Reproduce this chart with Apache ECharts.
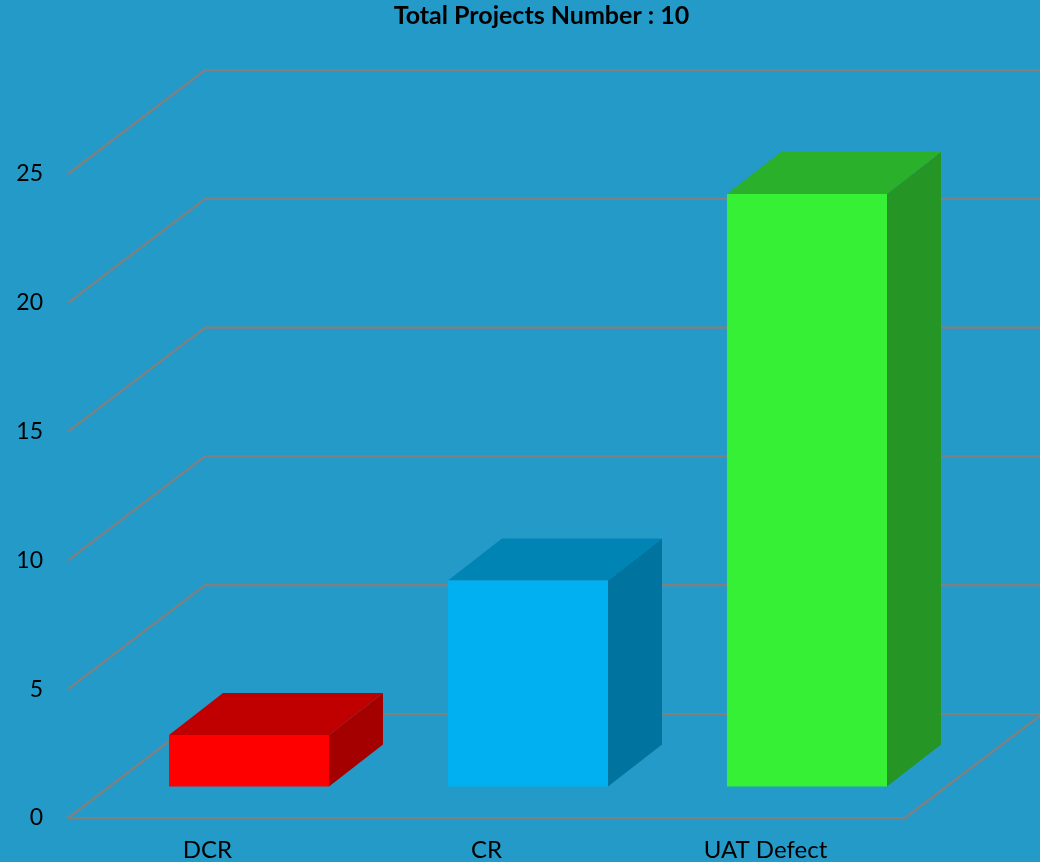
<!DOCTYPE html>
<html>
<head>
<meta charset="utf-8">
<style>html,body{margin:0;padding:0;background:#249ac8}#c{width:1040px;height:862px}</style>
<script src="https://cdn.jsdelivr.net/npm/echarts@6/dist/echarts.min.js"></script>
</head>
<body>
<div id="c"></div>
<script>
const categories = ['DCR', 'CR', 'UAT Defect'];
const values = [2, 8, 23];
const yTicks = [0, 5, 10, 15, 20, 25];
const titleText = 'Total Projects Number : 10';

const frontColors = ['#ff0000', '#00b0f0', '#35f035'];
const topColors = ['#c00000', '#0084b4', '#2ab02a'];
const sideColors = ['#a50000', '#00739e', '#259625'];
const GRID = '#808080';
const DX = 137, DY = 104;           // floor depth
const BDX = 54, BDY = 42;           // bar depth
const OX = 41.5, OY = 31.5;         // bar offset from front plane
const BAR_W = 160;

const chart = echarts.init(document.getElementById('c'), null, {renderer: 'canvas'});

function renderWall(params, api) {
  const v = api.value(0);
  const p = api.coord([0, v]);
  const x0 = params.coordSys.x, x1 = x0 + params.coordSys.width;
  const y = p[1];
  const style = {stroke: GRID, lineWidth: 2.2, fill: null};
  const children = [
    {type: 'polyline', shape: {points: [[x0, y], [x0 + DX, y - DY], [api.getWidth() + 2, y - DY]]}, style}
  ];
  if (v === 0) {
    children.push({type: 'line', shape: {x1: x0, y1: y, x2: x1, y2: y}, style});
    children.push({type: 'line', shape: {x1: x1, y1: y, x2: x1 + DX, y2: y - DY}, style});
  }
  return {type: 'group', children};
}

function renderBar(params, api) {
  const i = api.value(0);
  const c = api.coord([i, api.value(1)]);
  const b = api.coord([i, 0]);
  const l = c[0] - BAR_W / 2 + OX, r = l + BAR_W;
  const t = c[1] - OY, bt = b[1] - OY;
  const shape = pts => ({points: pts});
  return {type: 'group', children: [
    {type: 'polygon', shape: shape([[r, t], [r + BDX, t - BDY], [r + BDX, bt - BDY], [r, bt]]), style: {fill: sideColors[i]}},
    {type: 'polygon', shape: shape([[l, t], [l + BDX, t - BDY], [r + BDX, t - BDY], [r, t]]), style: {fill: topColors[i]}},
    {type: 'rect', shape: {x: l, y: t, width: BAR_W, height: bt - t}, style: {fill: frontColors[i]}}
  ]};
}

chart.setOption({
  animation: false,
  backgroundColor: '#249ac8',
  title: {
    text: titleText, left: 536.5, top: -2, textAlign: 'center',
    textStyle: {fontFamily: 'Lato', fontWeight: 'bold', fontSize: 25, color: '#000'}
  },
  grid: {left: 68, right: 135, top: 174, bottom: 44, containLabel: false},
  xAxis: {
    type: 'category', data: categories,
    axisLine: {show: false}, axisTick: {show: false}, splitLine: {show: false},
    axisLabel: {fontFamily: 'Lato', fontSize: 24, color: '#000', margin: 20}
  },
  yAxis: {
    type: 'value', min: 0, max: 25, interval: 5,
    axisLine: {show: false}, axisTick: {show: false}, splitLine: {show: false},
    axisLabel: {fontFamily: 'Lato', fontSize: 23, color: '#000', margin: 25, padding: [3, 0, 0, 0]}
  },
  series: [
    {type: 'custom', clip: false, silent: true, z: 1, renderItem: renderWall,
     encode: {y: 0}, data: yTicks.map(v => [v])},
    {type: 'custom', clip: false, silent: true, z: 2, renderItem: renderBar,
     encode: {x: 0, y: 1}, data: values.map((v, i) => [i, v])}
  ]
});
</script>
</body>
</html>
